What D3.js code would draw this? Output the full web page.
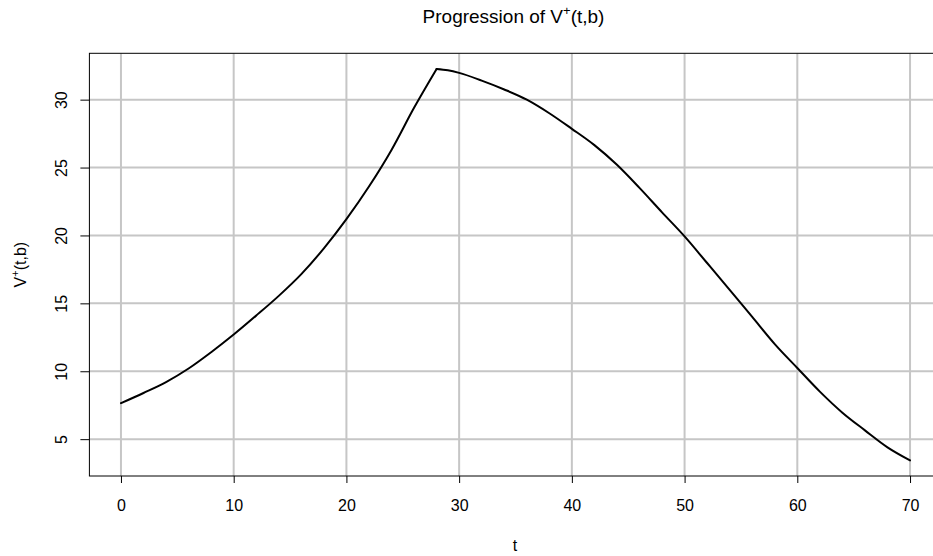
<!DOCTYPE html>
<html>
<head>
<meta charset="utf-8">
<script src="https://cdn.jsdelivr.net/npm/d3@7"></script>
<style>
  html, body { margin: 0; padding: 0; background: #fff; }
  svg { display: block; font-family: "Liberation Sans", Arial, sans-serif; }
</style>
</head>
<body>
<svg id="chart" width="933" height="556"></svg>
<script>
// ---- data ----
const tValues = [0, 2, 4, 6, 8, 10, 12, 14, 16, 18, 20, 22, 24, 26, 28,
                 29, 30, 32, 34, 36, 38, 40, 42, 44, 46, 48, 50, 52, 54, 56, 58, 60, 62, 64, 66, 68, 70];
const vValues = [7.65, 8.4, 9.2, 10.2, 11.4, 12.7, 14.1, 15.55, 17.15, 19.05, 21.2, 23.6, 26.3, 29.4, 32.26,
                 32.16, 31.97, 31.4, 30.75, 30.0, 29.0, 27.85, 26.65, 25.2, 23.5, 21.7, 19.93, 17.97, 16.0, 14.0, 12.0, 10.24, 8.5, 6.95, 5.65, 4.4, 3.44];
const xTicks = [0, 10, 20, 30, 40, 50, 60, 70];
const yTicks = [5, 10, 15, 20, 25, 30];
const titleMain = "Progression of V";
const supText = "+";
const titleTail = "(t,b)";
const xLabel = "t";

const svg = d3.select("#chart");
const pLeft = 89.4, pRight = 941.6, pTop = 53.3, pBottom = 476;

const xMin = d3.min(tValues), xMax = d3.max(tValues);
const yMin = d3.min(vValues), yMax = d3.max(vValues);
const xPad = (xMax - xMin) * 0.04, yPad = (yMax - yMin) * 0.04;

const x = d3.scaleLinear().domain([xMin - xPad, xMax + xPad]).range([pLeft, pRight]);
const y = d3.scaleLinear().domain([yMin - yPad, yMax + yPad]).range([pBottom, pTop]);

svg.append("defs").append("clipPath").attr("id", "clip")
  .append("rect").attr("x", pLeft).attr("y", pTop).attr("width", pRight - pLeft).attr("height", pBottom - pTop);

const plot = svg.append("g").attr("clip-path", "url(#clip)");

// grid
plot.selectAll("line.vg").data(xTicks).enter().append("line")
  .attr("x1", d => x(d)).attr("x2", d => x(d)).attr("y1", pTop).attr("y2", pBottom)
  .attr("stroke", "#c6c6c6").attr("stroke-width", 2);
plot.selectAll("line.hg").data(yTicks).enter().append("line")
  .attr("x1", pLeft).attr("x2", pRight).attr("y1", d => y(d)).attr("y2", d => y(d))
  .attr("stroke", "#c6c6c6").attr("stroke-width", 2);

// line: smooth on each side of the peak, sharp corner at the peak
const data = tValues.map((t, i) => [t, vValues[i]]);
const peak = d3.maxIndex(vValues);
const segs = [data.slice(0, peak + 1), data.slice(peak)];
const lineGen = d3.line().x(d => x(d[0])).y(d => y(d[1])).curve(d3.curveMonotoneX);
plot.selectAll("path.v").data(segs).enter().append("path")
  .attr("fill", "none").attr("stroke", "#000").attr("stroke-width", 2)
  .attr("stroke-linejoin", "round").attr("stroke-linecap", "round")
  .attr("d", lineGen);

// box
svg.append("rect").attr("x", pLeft).attr("y", pTop).attr("width", pRight - pLeft).attr("height", pBottom - pTop)
  .attr("fill", "none").attr("stroke", "#000").attr("stroke-width", 1);

// x axis
const xAxis = d3.axisBottom(x).tickValues(xTicks).tickSize(7).tickPadding(17).tickFormat(d3.format("d"));
const gx = svg.append("g").attr("transform", `translate(0,${pBottom})`).call(xAxis);
gx.select(".domain").remove();
gx.selectAll(".tick line").attr("stroke", "#000");
gx.selectAll(".tick text").attr("font-size", 16).attr("fill", "#000")
  .attr("font-family", "'Liberation Sans', Arial, sans-serif");

// y axis
const yAxis = d3.axisLeft(y).tickValues(yTicks).tickSize(9).tickFormat(d3.format("d"));
const gy = svg.append("g").attr("transform", `translate(${pLeft},0)`).call(yAxis);
gy.select(".domain").remove();
gy.selectAll(".tick line").attr("stroke", "#000");
gy.selectAll(".tick text")
  .attr("font-size", 16).attr("fill", "#000")
  .attr("font-family", "'Liberation Sans', Arial, sans-serif")
  .attr("x", null)
  .attr("text-anchor", "middle")
  .attr("transform", "translate(-28,0) rotate(-90)")
  .attr("dy", "0.35em");

// title
const title = svg.append("text").attr("x", 513.5).attr("y", 23)
  .attr("text-anchor", "middle").attr("font-size", 19).attr("fill", "#000");
title.append("tspan").text(titleMain);
title.append("tspan").attr("dy", -8).attr("font-size", 13).text(supText);
title.append("tspan").attr("dy", 8).text(titleTail);

// x label
svg.append("text").attr("x", 515).attr("y", 551).attr("text-anchor", "middle")
  .attr("font-size", 16).attr("fill", "#000").text(xLabel);

// y label
const yl = svg.append("text").attr("transform", `translate(26,${(pTop + pBottom) / 2}) rotate(-90)`)
  .attr("text-anchor", "middle").attr("font-size", 16).attr("fill", "#000");
yl.append("tspan").text("V");
yl.append("tspan").attr("dy", -7).attr("font-size", 11).text(supText);
yl.append("tspan").attr("dy", 7).text(titleTail);
</script>
</body>
</html>
